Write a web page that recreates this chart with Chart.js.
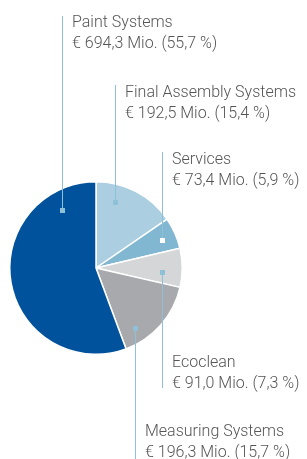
<!DOCTYPE html>
<html lang="en">
<head>
    <meta charset="UTF-8">
    <title>Revenue by segment</title>
    <style>
        html, body {
            margin: 0;
            padding: 0;
            background: #ffffff;
        }
        canvas {
            display: block;
        }
    </style>
    <script src="https://cdn.jsdelivr.net/npm/chart.js@4.4.0/dist/chart.umd.min.js"></script>
</head>
<body>
    <canvas id="pieChart" width="307" height="459"></canvas>

    <script>
        // Segments, clockwise from 12 o'clock
        const segments = ['Final Assembly Systems', 'Services', 'Ecoclean', 'Measuring Systems', 'Paint Systems'];
        const revenueMio = [192.5, 73.4, 91.0, 196.3, 694.3];
        const sharePct = [15.4, 5.9, 7.3, 15.7, 55.7];

        const sliceColors = ['#abcfe0', '#81b7d1', '#d5d6d8', '#a8a9ac', '#00529c'];

        // where each leader line sits: marker inside the slice, text block outside
        const leaders = [
            { frac: 0.29, rad: 0.80, base: 96.5, lineTo: 85 },
            { frac: 0.55, rad: 0.83, base: 163.5, lineTo: 152, marker: '#ffffff' },
            { frac: 0.63, rad: 0.77, base: 366.5, lineTo: 388 },
            { frac: 0.77, rad: 0.83, base: 435.5, lineTo: 459 },
            { frac: 0.85, rad: 0.78, base: 27, lineTo: 16 }
        ];

        const lineColor = '#8ec0d8';
        const textColor = '#555555';
        const fontSpec = '300 16px Roboto, "Liberation Sans", sans-serif';

        function fmt(v) {
            return v.toFixed(1).replace('.', ',');
        }

        const leaderPlugin = {
            id: 'leaders',
            afterDraw(chart) {
                const ctx = chart.ctx;
                const arcs = chart.getDatasetMeta(0).data;
                ctx.save();
                arcs.forEach((arc, i) => {
                    const L = leaders[i];
                    const p = arc.getProps(['x', 'y', 'startAngle', 'endAngle', 'outerRadius'], true);
                    const a = p.startAngle + L.frac * (p.endAngle - p.startAngle);
                    const mx = Math.round(p.x + Math.cos(a) * p.outerRadius * L.rad);
                    const my = Math.round(p.y + Math.sin(a) * p.outerRadius * L.rad);

                    ctx.strokeStyle = lineColor;
                    ctx.lineWidth = 1;
                    ctx.beginPath();
                    ctx.moveTo(mx + 0.5, my);
                    ctx.lineTo(mx + 0.5, L.lineTo);
                    ctx.stroke();

                    ctx.fillStyle = L.marker || lineColor;
                    ctx.fillRect(mx - 2, my - 2, 5, 5);

                    ctx.fillStyle = textColor;
                    ctx.font = fontSpec;
                    ctx.textAlign = 'left';
                    ctx.textBaseline = 'alphabetic';
                    ctx.fillText(segments[i], mx + 10, L.base);
                    ctx.fillText('€ ' + fmt(revenueMio[i]) + ' Mio. (' + fmt(sharePct[i]) + ' %)', mx + 10, L.base + 21);
                });
                ctx.restore();
            }
        };

        const ctx = document.getElementById('pieChart').getContext('2d');
        new Chart(ctx, {
            type: 'pie',
            data: {
                labels: segments,
                datasets: [{
                    data: revenueMio,
                    backgroundColor: sliceColors,
                    borderColor: '#ffffff',
                    borderWidth: 1.5
                }]
            },
            options: {
                responsive: false,
                animation: false,
                layout: {
                    padding: { left: 9, right: 124, top: 181, bottom: 104 }
                },
                plugins: {
                    legend: { display: false },
                    tooltip: { enabled: false }
                }
            },
            plugins: [leaderPlugin]
        });
    </script>
</body>
</html>
